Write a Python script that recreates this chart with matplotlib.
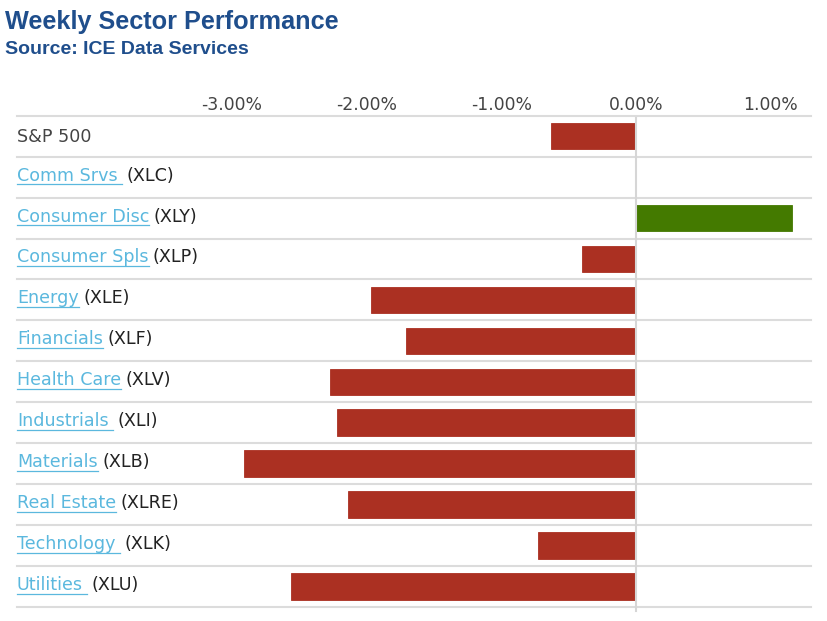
"""
weekly sector performance bar chart
"""

import numpy as np
import matplotlib
matplotlib.use("Agg")
import matplotlib.pyplot as plt
from matplotlib.lines import Line2D
from matplotlib.transforms import IdentityTransform

plt.rcParams["font.family"] = ["DejaVu Sans"]

# data
names = ["S&P 500", "Comm Srvs ", "Consumer Disc", "Consumer Spls", "Energy",
         "Financials", "Health Care", "Industrials ", "Materials",
         "Real Estate", "Technology ", "Utilities "]
tickers = ["", "XLC", "XLY", "XLP", "XLE", "XLF", "XLV", "XLI", "XLB",
           "XLRE", "XLK", "XLU"]
values = [-0.63, 0.0, 1.16, -0.40, -1.97, -1.71, -2.27, -2.22, -2.91,
          -2.14, -0.73, -2.56]
xtick_vals = [-3, -2, -1, 0, 1]
xtick_labels = ["-3.00%", "-2.00%", "-1.00%", "0.00%", "1.00%"]

W, H = 828, 621
DPI = 100
red = "#ab3022"
green = "#447a00"
link = "#5bb8de"
grid = "#dcdcdc"

fig = plt.figure(figsize=(W / DPI, H / DPI), dpi=DPI)
fig.patch.set_facecolor("white")

# axes in pixel layout
left_px, right_px, top_px, bot_px = 17, 811, 115.7, 607
zero_px, px_per_pct = 636, 134.75
ax = fig.add_axes([left_px / W, 1 - bot_px / H,
                   (right_px - left_px) / W, (bot_px - top_px) / H])
n = len(names)
y = np.arange(n)
ax.set_ylim(n - 0.5, -0.5)
ax.set_xlim(-(zero_px - left_px) / px_per_pct, (right_px - zero_px) / px_per_pct)

colors = [green if v > 0 else red for v in values]
ax.barh(y, values, height=0.65, color=colors, edgecolor=colors, linewidth=0.6, zorder=2)

for k in range(n + 1):
    ax.axhline(k - 0.5, color=grid, lw=1.5, zorder=1, clip_on=False)
ax.plot([0, 0], [-0.45, n - 0.4], color="#d6d6d6", lw=1.5, zorder=3, clip_on=False)

for s in ax.spines.values():
    s.set_visible(False)
ax.set_yticks([])
ax.xaxis.tick_top()
ax.set_xticks(xtick_vals)
ax.set_xticklabels(xtick_labels)
ax.tick_params(axis="x", length=0, pad=1.5, labelsize=12.4, labelcolor="#444444")

# titles
fig.text(5 / W, 1 - 29.3 / H, "Weekly Sector Performance", fontsize=18.2,
         fontweight="bold", family="Liberation Sans", color="#1f4e8c", va="baseline")
fig.text(5 / W, 1 - 54.3 / H, "Source: ICE Data Services", fontsize=14.0,
         fontweight="bold", family="Liberation Sans", color="#1f4e8c", va="baseline")

# row labels: underlined link text + ticker
fig.canvas.draw()
renderer = fig.canvas.get_renderer()
ident = IdentityTransform()
x0 = ax.transAxes.transform((0, 0))[0]
for i, (name, tk) in enumerate(zip(names, tickers)):
    yc = ax.transData.transform((0, i))[1]
    base = yc - 3.5
    if tk == "":
        fig.text(x0, yc - 5.5, name, transform=ident, fontsize=12.6,
                 color="#444444", va="baseline")
        continue
    t = fig.text(x0, base, name.rstrip(), transform=ident, fontsize=12.6,
                 color=link, va="baseline")
    bb = t.get_window_extent(renderer)
    x_end = bb.x1 + (4 if name.endswith(" ") else 0)
    fig.add_artist(Line2D([x0, x_end], [base - 3.5, base - 3.5], transform=ident,
                          color=link, lw=0.9))
    fig.text(x_end + 4.5, base, "(" + tk + ")", transform=ident, fontsize=12.6,
             color="#222222", va="baseline")

plt.savefig("out.png", dpi=DPI, facecolor="white")
